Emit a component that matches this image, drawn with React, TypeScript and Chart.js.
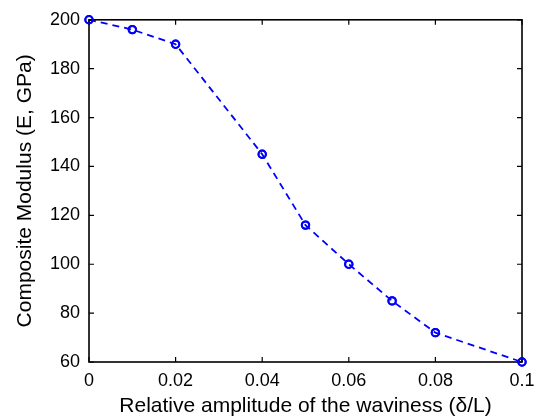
import React, { useEffect, useRef } from "react";
import { Chart, registerables } from "chart.js";

Chart.register(...registerables);

const amplitude = [0, 0.01, 0.02, 0.04, 0.05, 0.06, 0.07, 0.08, 0.1];
const modulus = [200, 196, 190, 145, 116, 100, 85, 72, 60];
const xTicks = [0, 0.02, 0.04, 0.06, 0.08, 0.1];
const yTicks = [60, 80, 100, 120, 140, 160, 180, 200];

const FONT = "Arial, 'Liberation Sans', Helvetica, sans-serif";

const boxPlugin = {
  id: "matlabBox",
  afterDatasetsDraw(chart: any) {
    const { ctx, chartArea, scales } = chart;
    const { left, right, top, bottom } = chartArea;
    ctx.save();
    ctx.strokeStyle = "#000";
    ctx.lineWidth = 1.2;
    ctx.beginPath();
    const tl = 5;
    for (const v of xTicks) {
      const x = scales.x.getPixelForValue(v);
      ctx.moveTo(x, bottom);
      ctx.lineTo(x, bottom - tl);
      ctx.moveTo(x, top);
      ctx.lineTo(x, top + tl);
    }
    for (const v of yTicks) {
      const y = scales.y.getPixelForValue(v);
      ctx.moveTo(left, y);
      ctx.lineTo(left + tl, y);
      ctx.moveTo(right, y);
      ctx.lineTo(right - tl, y);
    }
    ctx.stroke();
    ctx.lineWidth = 1.6;
    ctx.strokeRect(left, top, right - left, bottom - top);
    ctx.restore();
  },
  afterDraw(chart: any) {
    const meta = chart.getDatasetMeta(0);
    const ctx = chart.ctx;
    ctx.save();
    ctx.strokeStyle = "#0000ff";
    ctx.lineWidth = 2;
    for (const p of meta.data) {
      ctx.beginPath();
      ctx.arc(p.x, p.y, 3.7, 0, Math.PI * 2);
      ctx.stroke();
    }
    ctx.restore();
  },
};

export default function App() {
  const ref = useRef<HTMLCanvasElement | null>(null);
  useEffect(() => {
    if (!ref.current) return;
    const chart = new Chart(ref.current, {
      type: "line",
      data: {
        datasets: [
          {
            data: amplitude.map((x, i) => ({ x, y: modulus[i] })),
            borderColor: "#0000ff",
            borderWidth: 1.8,
            borderDash: [7, 5],
            backgroundColor: "rgba(0,0,0,0)",
            pointBorderColor: "#0000ff",
            pointBackgroundColor: "rgba(0,0,0,0)",
            pointBorderWidth: 2,
            pointRadius: 3.7,
            tension: 0,
            fill: false,
            clip: false as any,
          },
        ],
      },
      options: {
        animation: false,
        responsive: false,
        maintainAspectRatio: false,
        layout: { padding: { top: 16, right: 22, left: 0, bottom: 0 } },
        plugins: { legend: { display: false }, tooltip: { enabled: false } },
        scales: {
          x: {
            type: "linear",
            min: 0,
            max: 0.1,
            afterBuildTicks: (s: any) => {
              s.ticks = xTicks.map((v) => ({ value: v }));
            },
            afterFit: (s: any) => {
              s.height = 55;
            },
            grid: { display: false, drawTicks: false },
            border: { display: false },
            ticks: {
              color: "#000",
              padding: 8,
              maxRotation: 0,
              autoSkip: false,
              font: { family: FONT, size: 18 },
              callback: (v: any) => String(parseFloat(Number(v).toFixed(2))),
            },
            title: {
              display: true,
              text: "Relative amplitude of the waviness (δ/L)",
              color: "#000",
              font: { family: FONT, size: 21 },
              padding: { top: 0, bottom: -2 },
            },
          },
          y: {
            type: "linear",
            min: 60,
            max: 200,
            afterBuildTicks: (s: any) => {
              s.ticks = yTicks.map((v) => ({ value: v }));
            },
            afterFit: (s: any) => {
              s.width = 89;
            },
            grid: { display: false, drawTicks: false },
            border: { display: false },
            ticks: {
              color: "#000",
              padding: 9,
              autoSkip: false,
              font: { family: FONT, size: 18 },
            },
            title: {
              display: true,
              text: "Composite Modulus (E, GPa)",
              color: "#000",
              font: { family: FONT, size: 21 },
              padding: { top: 13, bottom: 0 },
            },
          },
        },
      },
      plugins: [boxPlugin],
    });
    return () => chart.destroy();
  }, []);
  return (
    <div style={{ position: "fixed", left: 0, top: 0, width: 544, height: 417, background: "#fff" }}>
      <canvas ref={ref} width={544} height={417} style={{ width: 544, height: 417, display: "block" }} />
    </div>
  );
}
